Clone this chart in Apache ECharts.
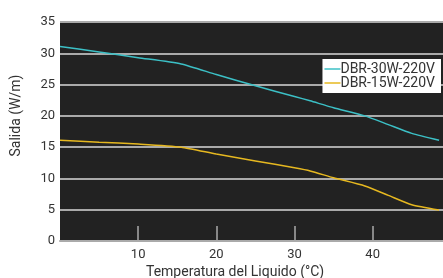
<!DOCTYPE html>
<html>
<head>
<meta charset="utf-8">
<script src="https://cdn.jsdelivr.net/npm/echarts@6/dist/echarts.min.js"></script>
<style>html,body{margin:0;padding:0;background:#fff}#c{width:443px;height:278px}</style>
</head>
<body>
<div id="c"></div>
<script>
const temps = [0, 5, 10, 15.5, 20, 25, 30, 32, 35, 39, 42, 45, 48.5];
const dbr30 = [31.1, 30.2, 29.3, 28.3, 26.6, 24.8, 23.1, 22.4, 21.3, 20.0, 18.6, 17.2, 16.1];
const dbr15 = [16.1, 15.8, 15.5, 15.0, 13.9, 12.8, 11.7, 11.2, 10.1, 8.8, 7.3, 5.8, 4.95];
const xTicks = [10, 20, 30, 40];
const seriesNames = ['DBR-30W-220V', 'DBR-15W-220V'];

const chart = echarts.init(document.getElementById('c'), null, {renderer: 'canvas'});
const font = 'Roboto';
chart.setOption({
  animation: false,
  textStyle: {fontFamily: font},
  grid: {left: 60, right: 0, top: 22, bottom: 37, show: true, backgroundColor: '#222222', borderWidth: 0,
         containLabel: false, outerBoundsMode: 'none'},
  legend: {
    right: 2, top: 59, orient: 'vertical', backgroundColor: '#ffffff',
    padding: [3, 6, 3, 2], itemGap: 0, itemWidth: 16, itemHeight: 14,
    icon: 'path://M0,6 L16,6 L16,7.5 L0,7.5 Z',
    textStyle: {color: '#333', fontSize: 14, lineHeight: 14, fontFamily: font, padding: [0, 0, 0, -5]},
    data: seriesNames
  },
  xAxis: {
    type: 'value', min: 0, max: 49, interval: 10,
    name: 'Temperatura del Liquido (°C)', nameLocation: 'middle', nameGap: 21,
    nameTextStyle: {color: '#333', fontSize: 14, fontFamily: font, padding: [0, 33, 0, 0]},
    axisLine: {show: true, lineStyle: {color: '#aaa', width: 2}},
    axisTick: {show: true, inside: true, length: 15, customValues: xTicks, lineStyle: {color: '#aaa', width: 1.5}},
    axisLabel: {color: '#333', fontSize: 13, margin: 7, customValues: xTicks},
    splitLine: {show: false}
  },
  yAxis: {
    type: 'value', min: 0, max: 35, interval: 5,
    name: 'Salida (W/m)', nameLocation: 'middle', nameGap: 37,
    nameTextStyle: {color: '#333', fontSize: 14, fontFamily: font, padding: [0, 0, 0, 32]},
    axisLine: {show: false}, axisTick: {show: false},
    axisLabel: {color: '#333', fontSize: 13, margin: 5},
    splitLine: {show: true, lineStyle: {color: '#aaa', width: 2}}
  },
  series: [
    {name: seriesNames[0], type: 'line', smooth: 0.2, symbol: 'none', clip: false,
     lineStyle: {color: '#3cc0c6', width: 1.5}, itemStyle: {color: '#3cc0c6'},
     data: temps.map((t, i) => [t, dbr30[i]])},
    {name: seriesNames[1], type: 'line', smooth: 0.2, symbol: 'none', clip: false,
     lineStyle: {color: '#e6b820', width: 1.5}, itemStyle: {color: '#e6b820'},
     data: temps.map((t, i) => [t, dbr15[i]])}
  ]
});
</script>
</body>
</html>
